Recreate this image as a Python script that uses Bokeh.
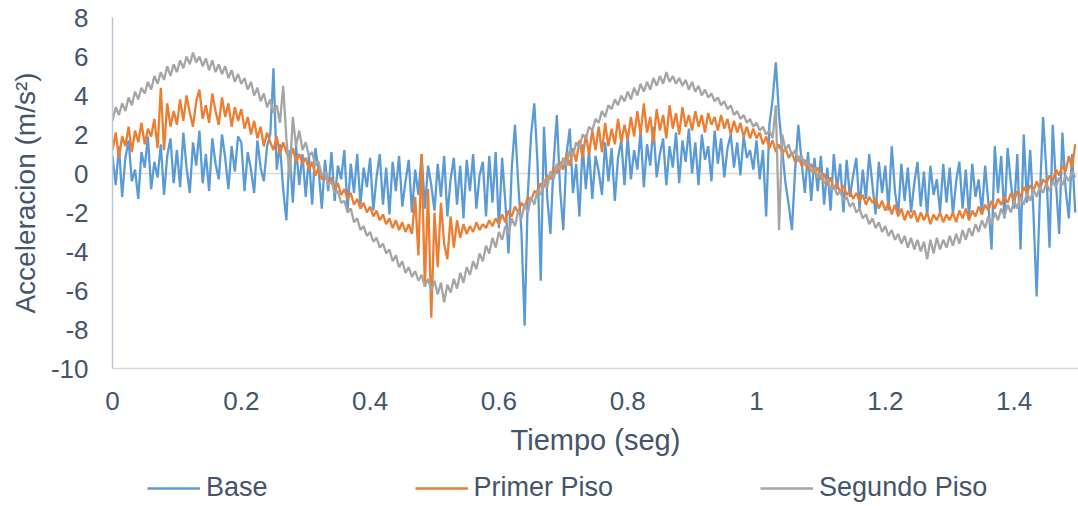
from bokeh.plotting import figure
from bokeh.layouts import column
from bokeh.models import (Range1d, FixedTicker, NumeralTickFormatter, Legend, LegendItem)
from bokeh.embed import file_html
from bokeh.resources import INLINE

time_seg = [round(i * 0.005, 3) for i in range(300)]

base = [
    0.9, -0.6, 1.4, -1.2, 0.8, 1.7, -0.4, 0.2, -1.3, 1.1, 0.3, 1.9, -0.8, 0.6, -0.2, 1.5, -1.1, 0.9, 1.8, -0.5,
    1.2, -0.7, 2.1, 0.3, -1.0, 1.6, 0.4, 2.2, -0.5, 1.0, -0.9, 1.8, 0.5, -0.3, 2.0, 0.8, -0.8, 1.4, 0.1, 1.9,
    1.6, -0.9, 1.1, 0.2, -1.0, 1.7, 0.3, -0.4, 1.4, 2.0, 5.4, 0.2, 1.5, -0.8, -2.4, 1.2, -1.5, 1.4, -0.6, 1.0,
    -1.2, 0.9, -1.6, 1.3, 0.2, -1.8, 0.7, -0.9, 1.1, -1.4, 0.4, -0.3, 1.2, -1.9, 0.5, -1.0, 1.0, -1.6, 0.3, -0.7,
    0.8, -1.9, -0.2, 1.0, -1.6, 0.3, -2.1, 0.6, -0.9, 0.9, -1.7, -0.4, 0.7, -2.0, 0.2, -1.1, 1.0, -1.8, 0.4, -0.6,
    -1.9, 0.5, -1.2, 0.9, -2.2, -0.3, 0.8, -1.6, 0.4, -2.3, 0.7, -0.9, 1.0, -1.8, -0.1, 0.6, -2.2, 0.9, -1.5, 1.1,
    -2.8, 0.8, -1.5, -4.1, 0.3, 2.5, -0.5, -3.0, -7.8, -1.0, 2.0, 3.6, 0.5, -5.5, 2.4, -1.2, -3.1, 0.6, 3.0, -0.8,
    -2.9, 1.0, 2.3, -1.0, 0.5, -2.2, 1.5, -0.8, 1.2, -1.3, 0.9, 0.1, -1.1, 1.6, -0.4, 1.3, -1.4, 0.8, 1.7, -0.6,
    1.9, -0.3, 1.2, 0.2, 2.2, -0.7, 1.5, 0.4, 2.4, -0.2, 1.0, 1.8, -0.6, 1.4, 0.3, 2.1, -0.5, 1.7, 0.6, 2.3,
    0.0, 1.6, -0.6, 2.0, 0.7, 1.4, -0.4, 2.2, 0.5, 1.8, -0.2, 1.3, 2.0, 0.3, 1.6, -0.1, 1.9, 0.8, 1.2, 0.2,
    1.7, -0.3, 1.2, -2.2, 2.5, 3.8, 5.7, 3.0, 1.2, -0.5, -1.6, -2.9, 0.2, 2.5, 0.6, -1.0, 1.1, -1.4, 0.8, -0.9,
    0.9, -1.6, 0.3, -1.9, 1.0, -0.8, 0.5, -2.0, 0.7, -1.2, -0.1, 0.8, -1.8, 0.2, -1.3, 1.0, -0.6, -2.1, 0.6, -1.0,
    0.4, -1.9, 1.4, -0.9, -2.1, 0.5, -1.4, 0.3, -2.0, -0.5, 0.6, -1.7, 0.1, -2.2, 0.4, -1.1, -0.3, -2.0, 0.5, -1.5,
    0.3, -2.1, -0.4, 0.6, -1.8, 0.2, -2.2, 0.5, -1.2, -0.3, -2.0, 0.4, -1.5, -3.9, 1.4, -1.0, 0.9, -2.3, 1.3, -0.5,
    -1.8, 1.0, -3.9, 2.0, -1.5, 1.2, -2.0, -6.3, -1.2, 2.9, 0.2, -3.8, 2.5, -0.5, -3.1, 2.1, -0.8, -2.3, 1.0, -2.0,
]

primer_piso = [
    1.2, 2.1, 0.8, 1.9, 1.4, 2.4, 1.1, 2.2, 1.6, 2.6, 1.5, 2.3, 1.9, 2.8, 1.3, 4.4, 1.2, 3.6, 2.4, 3.2,
    2.5, 3.8, 2.7, 4.0, 3.1, 2.4, 3.7, 4.3, 2.8, 3.5, 2.6, 4.1, 3.2, 2.5, 3.9, 2.9, 3.6, 2.4, 3.4, 2.7,
    3.3, 2.3, 2.9, 2.0, 2.7, 1.8, 2.4, 1.4, 2.1, 1.6, 1.2, 1.9, 1.0, 1.6, 1.1, 0.7, 1.3, 0.6, 1.0, 0.5,
    0.8, 0.2, 0.6, -0.1, 0.3, -0.3, 0.0, -0.6, -0.2, -0.8, -0.5, -1.1, -0.8, -1.3, -1.0, -1.6, -1.3, -1.8, -1.5, -2.0,
    -1.7, -2.2, -1.9, -2.4, -2.1, -2.6, -2.3, -2.8, -2.4, -2.9, -2.5, -3.0, -2.6, -3.1, -1.2, -4.2, 1.0, -5.8, -0.8, -7.4,
    -2.0, -4.8, -1.5, -3.6, -4.4, -2.2, -3.8, -2.4, -3.3, -2.6, -3.1, -2.7, -3.0, -2.5, -2.9, -2.6, -2.8, -2.4, -2.7, -2.3,
    -2.6, -2.1, -2.5, -1.9, -2.2, -1.7, -2.0, -1.5, -1.7, -1.2, -1.4, -0.9, -1.0, -0.5, -0.7, -0.1, -0.3, 0.3, 0.0, 0.6,
    0.2, 1.0, 0.4, 1.3, 0.6, 1.7, 0.8, 2.0, 1.0, 2.2, 1.2, 2.4, 1.1, 2.6, 1.4, 2.3, 1.5, 2.8, 1.6, 2.5,
    1.7, 2.9, 1.9, 3.2, 2.0, 3.6, 2.1, 2.9, 1.6, 3.3, 2.2, 3.0, 1.8, 3.5, 2.3, 3.1, 2.0, 3.4, 2.4, 3.0,
    2.2, 3.2, 2.4, 3.0, 2.1, 3.1, 2.5, 2.9, 2.2, 3.0, 2.3, 2.8, 2.0, 2.7, 2.1, 2.6, 1.9, 2.4, 1.8, 2.3,
    1.8, 2.1, 1.5, 1.9, 1.3, 1.7, 1.1, 1.5, 1.0, 1.3, 0.8, 1.1, 0.6, 0.9, 0.4, 0.7, 0.2, 0.5, 0.0, 0.3,
    -0.3, 0.0, -0.6, -0.2, -0.8, -0.5, -1.0, -0.6, -1.1, -0.9, -1.3, -1.0, -1.4, -1.1, -1.6, -1.2, -1.5, -1.3, -1.8, -1.4,
    -1.9, -1.5, -2.1, -1.6, -2.2, -1.8, -2.4, -1.9, -2.3, -1.9, -2.5, -2.0, -2.4, -2.0, -2.6, -2.1, -2.4, -2.0, -2.5, -2.1,
    -2.4, -2.0, -2.5, -1.9, -2.3, -1.8, -2.4, -1.9, -2.2, -1.7, -2.1, -1.6, -1.9, -1.4, -1.8, -1.3, -1.6, -1.2, -1.5, -1.0,
    -1.4, -0.9, -1.2, -0.7, -1.0, -0.6, -0.9, -0.4, -0.8, -0.3, -0.5, -0.1, -0.4, 0.2, -0.1, 0.4, 0.1, 0.9, 0.3, 1.5,
]

segundo_piso = [
    2.7, 3.4, 3.0, 3.6, 3.2, 3.9, 3.5, 4.2, 3.8, 4.4, 4.1, 4.7, 4.3, 5.0, 4.6, 5.2, 4.8, 5.5, 5.0, 5.6,
    5.2, 5.8, 5.4, 6.0, 5.6, 6.2, 5.7, 6.0, 5.5, 5.9, 5.3, 5.8, 5.2, 5.6, 5.1, 5.5, 4.9, 5.3, 4.7, 5.1,
    4.6, 4.9, 4.3, 4.7, 4.0, 4.4, 3.7, 4.1, 3.4, 3.8, 3.1, 3.5, 2.6, 4.5, 1.8, -0.2, 2.9, 1.4, 2.2, 1.2,
    1.6, 0.9, 1.1, 0.4, 0.6, -0.1, 0.1, -0.6, -0.4, -1.0, -0.9, -1.5, -1.4, -2.0, -1.8, -2.5, -2.3, -2.9, -2.7, -3.2,
    -3.0, -3.5, -3.3, -3.8, -3.6, -4.1, -3.9, -4.5, -4.2, -4.8, -4.5, -5.1, -4.8, -5.3, -5.0, -5.5, -5.2, -5.8, -5.4, -6.0,
    -5.5, -6.2, -5.6, -6.6, -5.7, -6.1, -5.4, -5.9, -5.1, -5.6, -4.8, -5.2, -4.5, -4.9, -4.1, -4.5, -3.7, -4.1, -3.3, -3.8,
    -3.0, -3.4, -2.7, -3.1, -2.3, -2.7, -1.9, -2.3, -1.6, -2.0, -1.2, -1.6, -0.8, -1.1, -0.3, -0.7, 0.1, -0.3, 0.5, 0.2,
    0.8, 0.4, 1.2, 0.9, 1.6, 1.3, 2.0, 1.8, 2.4, 2.2, 2.8, 2.6, 3.2, 2.9, 3.5, 3.3, 3.8, 3.5, 4.0, 3.7,
    4.2, 3.8, 4.4, 4.0, 4.6, 4.2, 4.7, 4.3, 4.9, 4.5, 5.0, 4.6, 5.2, 4.7, 5.0, 4.6, 4.9, 4.5, 4.8, 4.3,
    4.7, 4.2, 4.5, 4.0, 4.3, 3.9, 4.1, 3.7, 3.9, 3.5, 3.7, 3.3, 3.5, 3.0, 3.2, 2.8, 3.0, 2.6, 2.8, 2.4,
    2.6, 2.2, 2.4, 2.0, 2.2, 1.8, 3.5, -2.9, 2.0, 1.2, 1.5, 0.9, 1.2, 0.6, 0.9, 0.4, 0.6, 0.1, 0.3, -0.2,
    0.0, -0.5, -0.3, -0.8, -0.6, -1.1, -0.9, -1.4, -1.2, -1.7, -1.5, -2.0, -1.8, -2.3, -2.1, -2.6, -2.3, -2.8, -2.5, -3.0,
    -2.7, -3.2, -2.9, -3.4, -3.1, -3.6, -3.2, -3.8, -3.3, -3.9, -3.4, -4.0, -3.5, -4.4, -3.4, -4.1, -3.3, -3.9, -3.4, -3.8,
    -3.2, -3.7, -3.1, -3.6, -2.9, -3.4, -2.8, -3.2, -2.6, -3.0, -2.4, -2.8, -2.2, -2.6, -2.0, -2.4, -1.8, -2.2, -1.6, -2.0,
    -1.4, -1.8, -1.2, -1.6, -1.0, -1.4, -0.8, -1.2, -0.7, -1.0, -0.5, -0.9, -0.4, -0.7, -0.2, -0.6, -0.1, -0.4, 0.1, -0.2,
]

series_names = ["Base", "Primer Piso", "Segundo Piso"]
series_colors = ["#5B9BD5", "#ED7D31", "#A5A5A5"]
x_ticks = [0, 0.2, 0.4, 0.6, 0.8, 1.0, 1.2, 1.4]
y_ticks = [-10, -8, -6, -4, -2, 0, 2, 4, 6, 8]
y_tick_labels = ["-10", "-8", "-6", "-4", "-2", "0", "2", "4", "6", "8"]
all_series = [base, primer_piso, segundo_piso]

TEXT = "#44546A"
FONT = "Liberation Sans"
LW = 2.3

p = figure(width=1078, height=466, output_backend="svg", toolbar_location=None,
           x_range=Range1d(0, 1.5), y_range=Range1d(-10, 8),
           min_border_left=112, min_border_right=0, min_border_top=17, min_border_bottom=98)
p.outline_line_color = None
p.background_fill_color = "white"
p.border_fill_color = "white"

for ys, c in zip(all_series, series_colors):
    p.line(time_seg, ys, line_color=c, line_width=LW, line_join="bevel")

# axes
xa = p.xaxis[0]
xa.ticker = FixedTicker(ticks=x_ticks)
xa.formatter = NumeralTickFormatter(format="0.[0]")
xa.axis_line_color = "#D9D9D9"
xa.axis_line_width = 1.5
xa.major_tick_line_color = None
xa.minor_tick_line_color = None
xa.major_tick_out = 0
xa.minor_tick_out = 0
xa.major_label_text_font = FONT
xa.major_label_text_font_size = "26px"
xa.major_label_text_color = TEXT
xa.major_label_standoff = 23
xa.axis_label = "Tiempo (seg)"
xa.axis_label_text_font = FONT
xa.axis_label_text_font_size = "29px"
xa.axis_label_text_font_style = "normal"
xa.axis_label_text_color = TEXT
xa.axis_label_standoff = 11

ya = p.yaxis[0]
ya.ticker = FixedTicker(ticks=y_ticks)
ya.major_label_overrides = {v: s for v, s in zip(y_ticks, y_tick_labels)}
ya.axis_line_color = "#BCC7D6"
ya.axis_line_width = 1.5
ya.major_tick_line_color = None
ya.minor_tick_line_color = None
ya.major_tick_out = 0
ya.minor_tick_out = 0
ya.major_label_text_font = FONT
ya.major_label_text_font_size = "26px"
ya.major_label_text_color = TEXT
ya.major_label_standoff = 24
ya.axis_label = "Acceleracion (m/s²)"
ya.axis_label_text_font = FONT
ya.axis_label_text_font_size = "28px"
ya.axis_label_text_font_style = "normal"
ya.axis_label_text_color = TEXT
ya.axis_label_standoff = 7

p.xgrid.visible = False
p.ygrid.ticker = FixedTicker(ticks=[0, 8])
p.ygrid.grid_line_color = "#D9D9D9"
p.ygrid.grid_line_width = 1.5

# legend strip below the chart (same series, drawn off-range so only the legend shows)
leg = figure(width=1078, height=40, output_backend="svg", toolbar_location=None,
             x_range=Range1d(0, 1.5), y_range=Range1d(100, 101),
             min_border=0, x_axis_type=None, y_axis_type=None)
leg.outline_line_color = None
leg.xgrid.visible = False
leg.ygrid.visible = False
leg_renderers = [leg.line(time_seg, ys, line_color=c, line_width=LW)
                 for ys, c in zip(all_series, series_colors)]
legend = Legend(
    items=[LegendItem(label=n, renderers=[r]) for n, r in zip(series_names, leg_renderers)],
    orientation="horizontal", location=(35, 3),
    glyph_width=53, glyph_height=30, label_height=30, label_standoff=6, spacing=147,
    padding=0, margin=0, border_line_color=None, background_fill_alpha=0,
    label_text_font=FONT, label_text_font_size="27px", label_text_color=TEXT,
)
leg.add_layout(legend, "center")

layout = column(p, leg, spacing=0)
open("out.html", "w").write(file_html(layout, INLINE))
